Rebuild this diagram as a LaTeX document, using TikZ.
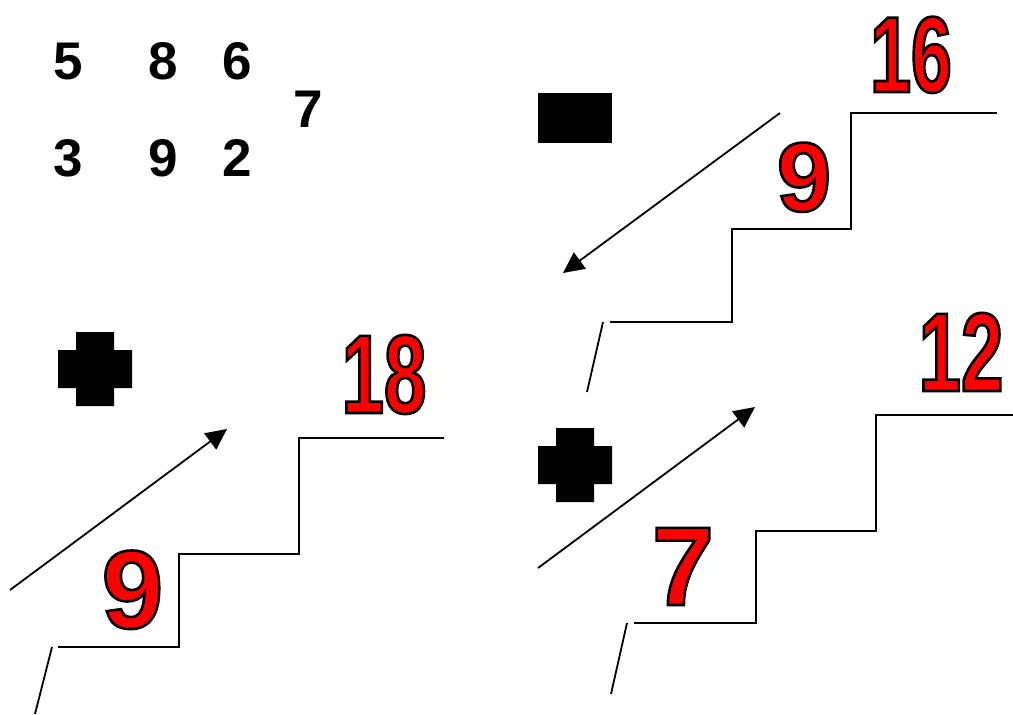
\documentclass[tikz,border=0pt]{standalone}
\usepackage{fontspec}
\setmainfont{Liberation Sans}
\newfontfamily\narrowfont[FakeStretch=0.68]{Liberation Sans}
\usetikzlibrary{arrows.meta}
\newcommand{\outlined}[1]{\special{pdf:literal direct 2 Tr 2.6 w 0 G}#1\special{pdf:literal direct 0 Tr}}

\begin{document}
\begin{tikzpicture}[
      x=1pt, y=-1pt,
      digit/.style={font=\bfseries\fontsize{53}{53}\selectfont, anchor=base, inner sep=0pt},
      rednum/.style={text=red, anchor=base, inner sep=0pt,
                     font=\bfseries\fontsize{#1}{#1}\selectfont},
      rednarrow/.style={rednum=#1, font=\narrowfont\bfseries\fontsize{#1}{#1}\selectfont},
      stair/.style={line width=1.8pt},
      arr/.style={-{Triangle[length=21pt,width=20pt]}, line width=1.8pt},
      sign/.style={fill=black},
      ]
    \useasboundingbox (0,0) rectangle (1013,715);

    \node[digit] (n5) at (68,79.5) {5};
    \node[digit] (n8) at (163,79.5) {8};
    \node[digit] (n6) at (237,79.5) {6};
    \node[digit] (n7) at (308,127.5) {7};
    \node[digit] (n3) at (68,176.5) {3};
    \node[digit] (n9) at (163,176.5) {9};
    \node[digit] (n2) at (237,176.5) {2};

    \fill[sign] (538,93) rectangle (612,143);
    \fill[sign] (76,332) rectangle (114,406) (58,350) rectangle (132,388);
    \fill[sign] (556,428) rectangle (594,502) (538,446) rectangle (612,484);

    \node[rednarrow=108] (s16) at (911,92) {\outlined{16}};
    \node[rednum=98] (s9a) at (804,211) {\outlined{9}};
    \node[rednarrow=112] (s12) at (961,391) {\outlined{12}};
    \node[rednum=112] (s7) at (683,605) {\outlined{7}};
    \node[rednum=111] (s9b) at (132.5,628) {\outlined{9}};
    \node[rednarrow=112] (s18) at (384,413) {\outlined{18}};

    \draw[stair] (610,322) -- (732,322) -- (732,229) -- (851,229) -- (851,113) -- (997,113);
    \draw[stair] (603,322) -- (587,392);
    \draw[stair] (58,647) -- (179,647) -- (179,554) -- (299,554) -- (299,438) -- (444,438);
    \draw[stair] (52,647) -- (35,714);
    \draw[stair] (634,623) -- (756,623) -- (756,531) -- (876,531) -- (876,415) -- (1013,415);
    \draw[stair] (627,623) -- (611,694);

    \coordinate (downA) at (780,113);
    \coordinate (downB) at (563,273);
    \coordinate (upA) at (10,590);
    \coordinate (upB) at (227,429);
    \coordinate (upC) at (538,568);
    \coordinate (upD) at (755,407);
    \draw[arr] (downA) -- (downB);
    \draw[arr] (upA) -- (upB);
    \draw[arr] (upC) -- (upD);
  \end{tikzpicture}
\end{document}
